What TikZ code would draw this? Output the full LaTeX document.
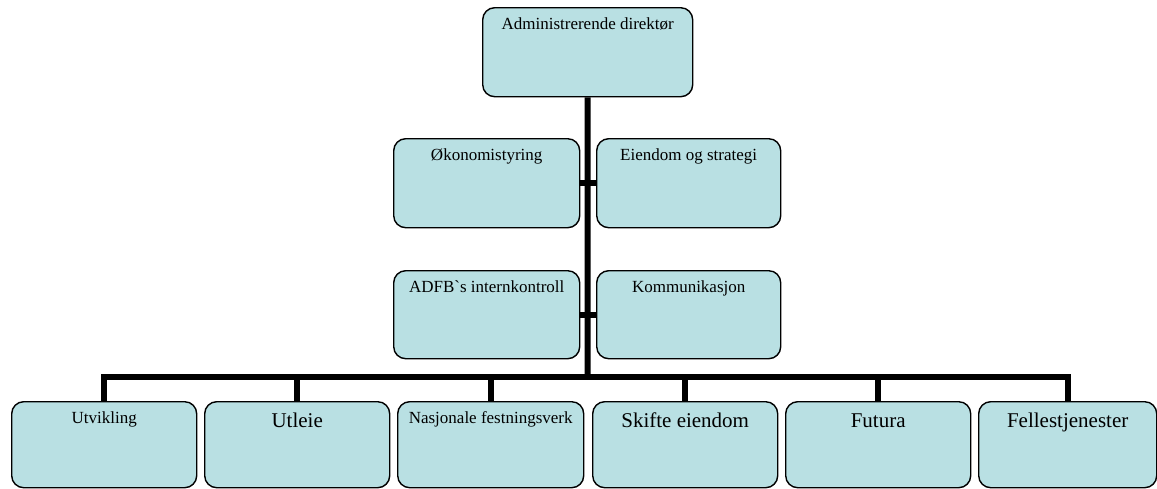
\documentclass[tikz,border=0pt]{standalone}
\usepackage{fontspec}
\setmainfont{Liberation Serif}[Ligatures=TeXOff]
\definecolor{boxfill}{RGB}{185,224,227}
\begin{document}
\begin{tikzpicture}[x=1pt,y=-1pt,
  box/.style={draw=black, line width=1.4pt, rounded corners=12pt, fill=boxfill,
    inner sep=0pt, anchor=north west, align=center},
  small/.style={font=\fontsize{17}{20}\selectfont, text height=22pt},
  large/.style={font=\fontsize{21}{24}\selectfont, text height=26pt},
  conn/.style={draw=black, line width=6pt}]
\useasboundingbox (0,0) rectangle (1157,488);
% top
\node[box, small, minimum width=210pt, text depth=67pt] (adm) at (482,7) {Administrerende direktør};
% middle
\node[box, small, minimum width=186pt, text depth=67pt] (oko) at (393,138) {Økonomistyring};
\node[box, small, minimum width=184pt, text depth=67pt] (eie) at (596,138) {Eiendom og strategi};
\node[box, small, minimum width=186pt, text depth=66pt] (adf) at (393,270) {ADFB`s internkontroll};
\node[box, small, minimum width=184pt, text depth=66pt] (kom) at (596,270) {Kommunikasjon};
% bottom
\node[box, small, minimum width=185pt, text depth=64pt] (u1) at (11,401) {Utvikling};
\node[box, large, minimum width=185pt, text depth=60pt] (u2) at (204,401) {Utleie};
\node[box, small, minimum width=186pt, text depth=64pt] (u3) at (397,401) {Nasjonale festningsverk};
\node[box, large, minimum width=185pt, text depth=60pt] (u4) at (592,401) {Skifte eiendom};
\node[box, large, minimum width=185pt, text depth=60pt] (u5) at (785,401) {Futura};
\node[box, large, minimum width=178pt, text depth=60pt] (u6) at (978,401) {Fellestjenester};
% connectors
\coordinate (j) at (587.5,377);
\draw[conn] (adm.south) -- (j);
\draw[conn] (oko.east) -- (eie.west);
\draw[conn] (adf.east) -- (kom.west);
\draw[conn] (u1.north) -- (u1.north |- j) -- (u6.north |- j) -- (u6.north);
\draw[conn] (u2.north) -- (u2.north |- j);
\draw[conn] (u3.north) -- (u3.north |- j);
\draw[conn] (u4.north) -- (u4.north |- j);
\draw[conn] (u5.north) -- (u5.north |- j);
\end{tikzpicture}
\end{document}
